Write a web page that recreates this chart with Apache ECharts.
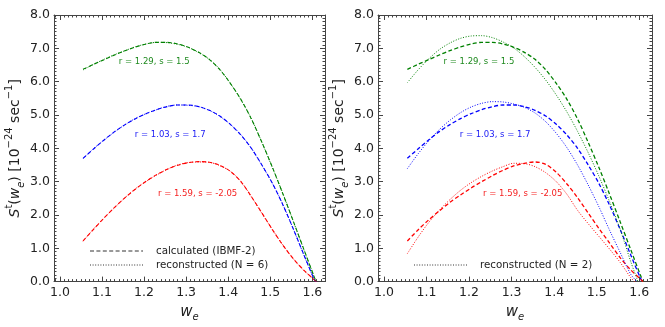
<!DOCTYPE html>
<html>
<head>
<meta charset="utf-8">
<script src="https://cdn.jsdelivr.net/npm/echarts@6/dist/echarts.min.js"></script>
<style>
  html, body { margin: 0; background: #fff; }
  #chart { width: 665px; height: 327px; }
</style>
</head>
<body>
<div id="chart"></div>
<script>
// w_e grid for the calculated (IBMF-2) curves and the N = 6 reconstruction
const wCalc = [1.055, 1.08, 1.105, 1.13, 1.155, 1.18, 1.205, 1.23, 1.255, 1.28, 1.305, 1.33,
               1.355, 1.38, 1.405, 1.43, 1.455, 1.48, 1.505, 1.53, 1.555, 1.58, 1.605, 1.609];
const calcGreen = [6.37, 6.52, 6.66, 6.80, 6.93, 7.04, 7.13, 7.18, 7.18, 7.13, 7.03, 6.88,
                   6.67, 6.36, 5.95, 5.47, 4.88, 4.18, 3.43, 2.63, 1.80, 0.96, 0.12, 0.0];
const calcBlue  = [3.70, 3.98, 4.25, 4.50, 4.71, 4.89, 5.04, 5.16, 5.25, 5.30, 5.30, 5.25,
                   5.14, 4.97, 4.72, 4.40, 4.00, 3.50, 2.95, 2.30, 1.57, 0.80, 0.05, 0.0];
const calcRed   = [1.22, 1.57, 1.91, 2.23, 2.52, 2.78, 3.01, 3.21, 3.37, 3.49, 3.57, 3.60,
                   3.58, 3.49, 3.31, 3.00, 2.55, 2.06, 1.56, 1.09, 0.68, 0.34, 0.05, 0.0];
// the red calculated curve as drawn in the right panel
const calcRedB  = [1.22, 1.55, 1.85, 2.12, 2.38, 2.60, 2.81, 3.00, 3.18, 3.34, 3.47, 3.55,
                   3.59, 3.52, 3.28, 2.93, 2.52, 2.06, 1.60, 1.16, 0.72, 0.35, 0.05, 0.0];

const rec6Green = [6.35, 6.52, 6.67, 6.81, 6.93, 7.05, 7.13, 7.18, 7.17, 7.12, 7.03, 6.87,
                   6.67, 6.37, 5.95, 5.46, 4.89, 4.18, 3.42, 2.64, 1.80, 0.95, 0.12, 0.0];
const rec6Blue  = [3.69, 3.99, 4.25, 4.49, 4.71, 4.90, 5.04, 5.16, 5.26, 5.30, 5.29, 5.25,
                   5.14, 4.96, 4.72, 4.41, 4.00, 3.49, 2.95, 2.31, 1.57, 0.79, 0.05, 0.0];
const rec6Red   = [1.21, 1.58, 1.91, 2.22, 2.52, 2.79, 3.01, 3.20, 3.37, 3.50, 3.57, 3.59,
                   3.58, 3.48, 3.31, 3.01, 2.55, 2.05, 1.56, 1.10, 0.68, 0.33, 0.05, 0.0];

// N = 2 reconstruction (right panel)
const wRec2 = [1.055, 1.08, 1.105, 1.13, 1.155, 1.18, 1.205, 1.23, 1.255, 1.28, 1.305, 1.33,
               1.355, 1.38, 1.405, 1.43, 1.455, 1.48, 1.505, 1.53, 1.555, 1.58];
const rec2Green = [5.97, 6.35, 6.68, 6.96, 7.16, 7.30, 7.37, 7.38, 7.32, 7.19, 7.01, 6.75,
                   6.43, 6.05, 5.60, 5.09, 4.51, 3.87, 3.17, 2.41, 1.58, 0.60];
const rec2Blue  = [3.39, 3.83, 4.22, 4.56, 4.84, 5.07, 5.24, 5.35, 5.40, 5.39, 5.33, 5.23,
                   5.06, 4.80, 4.45, 4.02, 3.50, 2.90, 2.25, 1.55, 0.88, 0.22];
const rec2Red   = [0.84, 1.33, 1.77, 2.14, 2.46, 2.74, 2.97, 3.16, 3.32, 3.45, 3.55, 3.54,
                   3.45, 3.27, 3.00, 2.62, 2.14, 1.74, 1.36, 0.98, 0.58, 0.12];
// where each N = 2 curve reaches zero
const rec2End = { green: 1.597, blue: 1.595, red: 1.589 };

const xMajor = [1.0, 1.1, 1.2, 1.3, 1.4, 1.5, 1.6];
const xMinor = [];
for (let k = 99; k <= 163; k++) xMinor.push(k / 100);

const labels = [
  { text: 'r = 1.29, s = 1.5', w: 1.14, s: 6.6, color: '#1f8a1f' },
  { text: 'r = 1.03, s = 1.7', w: 1.178, s: 4.4, color: '#2020f5' },
  { text: 'r = 1.59, s = -2.05', w: 1.233, s: 2.64, color: '#f52020' }
];

const FONT = 'DejaVu Sans';
const TXT = '#222';
const AX = '#444';
const XMIN = 0.986, XMAX = 1.63;

const pairs = (xs, ys) => xs.map((x, i) => [x, ys[i]]);

const chart = echarts.init(document.getElementById('chart'));

const grids = [
  { left: 54, top: 15, width: 271, height: 270 },
  { left: 378, top: 15, width: 274, height: 270 }
];

const xAxes = [];
const yAxes = [];
grids.forEach((g, gi) => {
  // bottom, labelled, major ticks
  xAxes.push({
    gridIndex: gi, type: 'value', position: 'bottom', min: XMIN, max: XMAX,
    name: '{i|w}{sub|e}', nameLocation: 'middle', nameGap: 18,
    nameTextStyle: {
      rich: {
        i: { fontFamily: FONT, fontSize: 15, fontStyle: 'italic', color: TXT, lineHeight: 20, verticalAlign: 'middle' },
        sub: { fontFamily: FONT, fontSize: 10, fontStyle: 'italic', color: TXT, lineHeight: 13, verticalAlign: 'bottom' }
      }
    },
    axisLine: { show: true, lineStyle: { color: AX, width: 1 } },
    axisTick: { show: true, inside: true, length: 5, customValues: xMajor, lineStyle: { color: AX } },
    axisLabel: { customValues: xMajor, formatter: v => v.toFixed(1), fontFamily: FONT, fontSize: 12.5, color: TXT, margin: 5 },
    splitLine: { show: false }
  });
  // bottom minor ticks
  xAxes.push({
    gridIndex: gi, type: 'value', position: 'bottom', min: XMIN, max: XMAX,
    axisLine: { show: false },
    axisTick: { show: true, inside: true, length: 2.5, customValues: xMinor, lineStyle: { color: AX } },
    axisLabel: { show: false }, splitLine: { show: false }
  });
  // top major
  xAxes.push({
    gridIndex: gi, type: 'value', position: 'top', min: XMIN, max: XMAX,
    axisLine: { show: true, lineStyle: { color: AX, width: 1 } },
    axisTick: { show: true, inside: true, length: 5, customValues: xMajor, lineStyle: { color: AX } },
    axisLabel: { show: false }, splitLine: { show: false }
  });
  // top minor
  xAxes.push({
    gridIndex: gi, type: 'value', position: 'top', min: XMIN, max: XMAX,
    axisLine: { show: false },
    axisTick: { show: true, inside: true, length: 2.5, customValues: xMinor, lineStyle: { color: AX } },
    axisLabel: { show: false }, splitLine: { show: false }
  });

  yAxes.push({
    gridIndex: gi, type: 'value', position: 'left', min: 0, max: 8, interval: 1,
    name: '{i|S}{sup|t}{n|(}{i|w}{sub|e}{n|) [10}{sup|\u221224}{n| sec}{sup|\u22121}{n|]}',
    nameLocation: 'middle', nameGap: 11, nameRotate: 90,
    nameTextStyle: {
      rich: {
        n: { fontFamily: FONT, fontSize: 14, color: TXT, lineHeight: 22, verticalAlign: 'middle' },
        i: { fontFamily: FONT, fontSize: 14, fontStyle: 'italic', color: TXT, lineHeight: 22, verticalAlign: 'middle' },
        sup: { fontFamily: FONT, fontSize: 10, color: TXT, lineHeight: 11, verticalAlign: 'top' },
        sub: { fontFamily: FONT, fontSize: 10, fontStyle: 'italic', color: TXT, lineHeight: 14, verticalAlign: 'bottom' }
      }
    },
    axisLine: { show: true, lineStyle: { color: AX, width: 1 } },
    axisTick: { show: true, inside: true, length: 5, lineStyle: { color: AX } },
    minorTick: { show: true, splitNumber: 10, length: 2.5, lineStyle: { color: AX } },
    axisLabel: { formatter: v => v.toFixed(1), fontFamily: FONT, fontSize: 12.5, color: TXT, margin: 4 },
    splitLine: { show: false }
  });
  yAxes.push({
    gridIndex: gi, type: 'value', position: 'right', min: 0, max: 8, interval: 1,
    axisLine: { show: true, lineStyle: { color: AX, width: 1 } },
    axisTick: { show: true, inside: true, length: 5, lineStyle: { color: AX } },
    minorTick: { show: true, splitNumber: 10, length: 2.5, lineStyle: { color: AX } },
    axisLabel: { show: false }, splitLine: { show: false }
  });
});

const dashed = [4, 2.4];
const dotted = [1, 1.6];

function line(name, data, color, dash, xi, yi, width) {
  return {
    name: name, type: 'line', xAxisIndex: xi, yAxisIndex: yi,
    data: data, showSymbol: false, symbol: 'none',
    smooth: 0.3, silent: true,
    lineStyle: { color: color, width: width, type: dash }
  };
}

const G = 'green', B = 'blue', R = 'red';
const series = [
  line('calc g', pairs(wCalc, calcGreen), G, dashed, 0, 0, 1.1),
  line('calc b', pairs(wCalc, calcBlue), B, dashed, 0, 0, 1.1),
  line('calc r', pairs(wCalc, calcRed), R, dashed, 0, 0, 1.1),
  line('rec6 g', pairs(wCalc, rec6Green), G, dotted, 0, 0, 1),
  line('rec6 b', pairs(wCalc, rec6Blue), B, dotted, 0, 0, 1),
  line('rec6 r', pairs(wCalc, rec6Red), R, dotted, 0, 0, 1),
  line('calc g2', pairs(wCalc, calcGreen), G, dashed, 4, 2, 1.3),
  line('calc b2', pairs(wCalc, calcBlue), B, dashed, 4, 2, 1.3),
  line('calc r2', pairs(wCalc, calcRedB), R, dashed, 4, 2, 1.3),
  line('rec2 g', pairs(wRec2, rec2Green).concat([[rec2End.green, 0]]), G, dotted, 4, 2, 1),
  line('rec2 b', pairs(wRec2, rec2Blue).concat([[rec2End.blue, 0]]), B, dotted, 4, 2, 1),
  line('rec2 r', pairs(wRec2, rec2Red).concat([[rec2End.red, 0]]), R, dotted, 4, 2, 1)
];

chart.setOption({
  animation: false,
  backgroundColor: '#fff',
  grid: grids,
  xAxis: xAxes,
  yAxis: yAxes,
  series: series
});

// annotations placed at data coordinates, legend drawn as graphic
const graphic = [];
[[0, 0], [4, 2]].forEach(([xi, yi]) => {
  labels.forEach(l => {
    const p = chart.convertToPixel({ xAxisIndex: xi, yAxisIndex: yi }, [l.w, l.s]);
    graphic.push({
      type: 'text', x: p[0], y: p[1], silent: true,
      style: { text: l.text, fill: l.color, font: '8.5px "DejaVu Sans"', verticalAlign: 'middle' }
    });
  });
});

function legendItem(x0, y, dash, text) {
  graphic.push({
    type: 'line', silent: true,
    shape: { x1: x0, y1: y, x2: x0 + 53, y2: y },
    style: { stroke: '#333', lineWidth: 1, lineDash: dash }
  });
  graphic.push({
    type: 'text', x: x0 + 66, y: y, silent: true,
    style: { text: text, fill: TXT, font: '10.3px "DejaVu Sans"', verticalAlign: 'middle' }
  });
}
legendItem(90, 251, dashed, 'calculated (IBMF-2)');
legendItem(90, 265, dotted, 'reconstructed (N = 6)');
legendItem(414, 265, dotted, 'reconstructed (N = 2)');

chart.setOption({ graphic: graphic });
</script>
</body>
</html>
